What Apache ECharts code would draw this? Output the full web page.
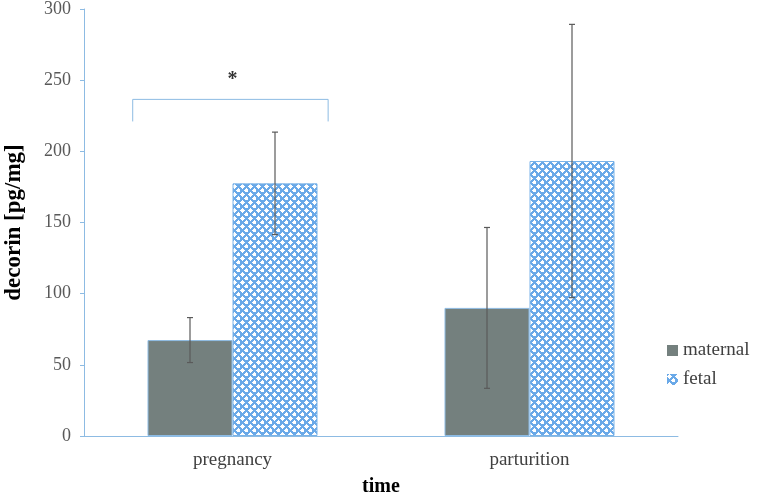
<!DOCTYPE html>
<html>
<head>
<meta charset="utf-8">
<script src="https://cdn.jsdelivr.net/npm/echarts@6/dist/echarts.min.js"></script>
<style>html,body{margin:0;padding:0;background:#fff}#c{width:780px;height:497px}</style>
</head>
<body>
<div id="c"></div>
<script>
var categories = ['pregnancy', 'parturition'];
var maternal = [67.4, 90];
var maternalErr = [15.8, 56.5];
var fetal = [177.5, 193.2];
var fetalErr = [36, 96];
var yTicks = [0, 50, 100, 150, 200, 250, 300];
var bracketLevel = 236.5;
var bracketDrop = 221;
var bracketSpan = [0.164, 0.822];
var starPos = [0.5, 250];

// pattern tile
var tile = document.createElement('canvas');
tile.width = 8; tile.height = 8;
var tc = tile.getContext('2d');
tc.fillStyle = '#6aa9e8';
tc.fillRect(0, 0, 8, 8);
tc.fillStyle = '#ffffff';
function plus(cx, cy) {
  tc.fillRect(cx - 2, cy, 5, 1);
  tc.fillRect(cx, cy - 2, 1, 5);
  tc.fillRect(cx - 1, cy - 1, 3, 3);
}
plus(2, 2); plus(6, 6);

var chart = echarts.init(document.getElementById('c'));
var font = '"Liberation Serif", "Times New Roman", serif';
var axisBlue = '#8dbbe3';

function errSeries(name, vals, errs, offsetSign) {
  var data = vals.map(function (v, i) { return [i, v, errs[i]]; });
  return {
    type: 'custom',
    name: name + '_err',
    z: 10,
    silent: true,
    xAxisIndex: 0, yAxisIndex: 0,
    data: data,
    renderItem: function (params, api) {
      var i = api.value(0), v = api.value(1), e = api.value(2);
      var c = api.coord([i, v]);
      var x = c[0] + offsetSign * 42.5;
      var top = api.coord([i, v + e])[1];
      var bot = api.coord([i, v - e])[1];
      var st = { stroke: '#5a5a5a', lineWidth: 1.2 };
      return {
        type: 'group',
        children: [
          { type: 'line', shape: { x1: x, y1: top, x2: x, y2: bot }, style: st },
          { type: 'line', shape: { x1: x - 3, y1: top, x2: x + 3, y2: top }, style: st },
          { type: 'line', shape: { x1: x - 3, y1: bot, x2: x + 3, y2: bot }, style: st }
        ]
      };
    }
  };
}

var option = {
  animation: false,
  backgroundColor: '#fff',
  grid: { left: 84, right: 102, top: 9, bottom: 61, containLabel: false, outerBoundsMode: 'none' },
  legend: {
    orient: 'vertical',
    left: 662, top: 336,
    itemWidth: 11, itemHeight: 11, itemGap: 10,
    icon: 'rect',
    itemStyle: { borderWidth: 0 },
    data: ['maternal', 'fetal'],
    textStyle: { fontFamily: font, fontSize: 19, color: '#404040' }
  },
  xAxis: [{
    type: 'category',
    data: categories,
    name: 'time',
    nameLocation: 'middle',
    nameGap: 41,
    nameTextStyle: { fontFamily: font, fontSize: 20, fontWeight: 'bold', color: '#000' },
    axisLine: { lineStyle: { color: axisBlue, width: 1 } },
    axisTick: { show: false },
    axisLabel: { fontFamily: font, fontSize: 19, color: '#404040', margin: 15 }
  }, {
    type: 'value', min: 0, max: 2, show: false
  }],
  yAxis: {
    type: 'value',
    min: yTicks[0], max: yTicks[yTicks.length - 1], interval: 50,
    name: 'decorin [pg/mg]',
    nameLocation: 'middle',
    nameGap: 58,
    nameTextStyle: { fontFamily: font, fontSize: 23, fontWeight: 'bold', color: '#000' },
    axisLine: { show: true, lineStyle: { color: axisBlue, width: 1 } },
    axisTick: { show: true, length: 4, lineStyle: { color: axisBlue } },
    splitLine: { show: false },
    axisLabel: { fontFamily: font, fontSize: 18, color: '#595959', margin: 13 }
  },
  series: [
    {
      name: 'maternal', type: 'bar', data: maternal,
      barWidth: 85, barGap: '0%',
      itemStyle: { color: '#74807e', borderColor: '#8dbbe3', borderWidth: 1 }
    },
    {
      name: 'fetal', type: 'bar', data: fetal,
      barWidth: 85, barGap: '0%',
      itemStyle: { color: { image: tile, repeat: 'repeat' }, borderColor: '#7ab3e8', borderWidth: 1 }
    },
    errSeries('maternal', maternal, maternalErr, -1),
    errSeries('fetal', fetal, fetalErr, 1),
    {
      type: 'line',
      name: 'bracket',
      xAxisIndex: 1, yAxisIndex: 0,
      silent: true,
      symbol: 'none',
      lineStyle: { color: '#8dbbe3', width: 1 },
      data: [[bracketSpan[0], bracketDrop], [bracketSpan[0], bracketLevel], [bracketSpan[1], bracketLevel], [bracketSpan[1], bracketDrop]],
      z: 5
    },
    {
      type: 'scatter',
      name: 'star',
      xAxisIndex: 1, yAxisIndex: 0,
      silent: true,
      symbolSize: 0,
      data: [starPos],
      label: { show: true, position: 'inside', formatter: '*', fontFamily: font, fontSize: 20, fontWeight: 'bold', color: '#000' }
    }
  ]
};
chart.setOption(option);
</script>
</body>
</html>
